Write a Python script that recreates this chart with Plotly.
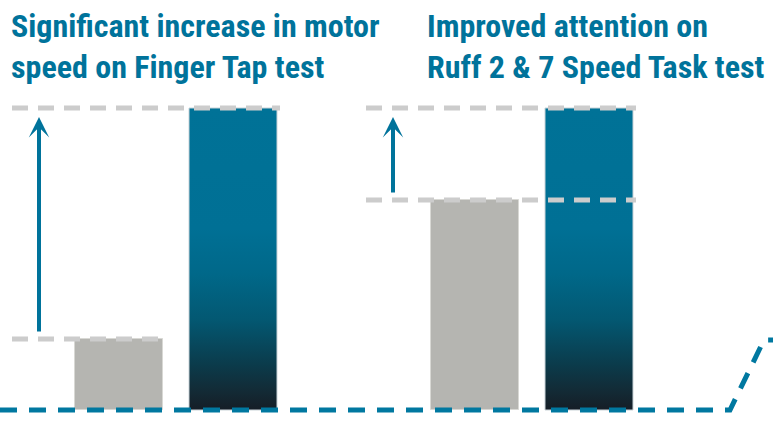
import plotly.graph_objects as go

# ---- data (arbitrary score units, "after" normalised to 100) ----
tests = ["Finger Tap test", "Ruff 2 & 7 Speed Task test"]
before = [23.5, 69.5]
after = [100, 100]
titles_line1 = ["Significant increase in motor", "Improved attention on"]
titles_line2 = ["speed on Finger Tap test", "Ruff 2 & 7 Speed Task test"]

# ---- layout constants ----
W, H = 780, 424
BLUE = "#00739b"
GRAY_BAR = "#b5b5b1"
GRAY_DASH = "#cccccc"
bar_w = 88
gray_x = [119, 475]
blue_x = [233, 589]
dash_left = [12, 366]
dash_right_top = [280, 636]
dash_right_low = [165, 636]
arrow_x = [39, 393]
title_x = [9, 425]
px_per_unit = 3.02
y0_px = 410
y_range = [-(H - y0_px) / px_per_unit, y0_px / px_per_unit]

fig = go.Figure()

# gray "before" bars
fig.add_trace(go.Bar(x=gray_x, y=before, width=bar_w, marker=dict(color=GRAY_BAR, line=dict(width=1, color="#d8d8d4")),
                     hoverinfo="skip", showlegend=False))

# blue "after" bars with vertical gradient
scale = [[0, "#151d26"], [0.06, "#132a35"], [0.15, "#0b3b4b"], [0.3, "#035872"],
         [0.45, "#006889"], [0.6, "#007095"], [1, "#007297"]]
for xc, v in zip(blue_x, after):
    xs = [xc - bar_w / 2, xc + bar_w / 2, xc + bar_w / 2, xc - bar_w / 2, xc - bar_w / 2]
    ys = [0, 0, v, v, 0]
    fig.add_trace(go.Scatter(x=xs, y=ys, fill="toself", mode="lines",
                             line=dict(color="#c9d3d8", width=1),
                             fillgradient=dict(type="vertical", colorscale=scale, start=0, stop=v),
                             hoverinfo="skip", showlegend=False))

shapes = []
for i in range(2):
    shapes.append(dict(type="line", xref="x", yref="y", x0=dash_left[i], x1=dash_right_top[i], y0=after[i], y1=after[i],
                       line=dict(color=GRAY_DASH, width=5, dash="16px,10px"), layer="above"))
    shapes.append(dict(type="line", xref="x", yref="y", x0=dash_left[i], x1=dash_right_low[i], y0=before[i], y1=before[i],
                       line=dict(color=GRAY_DASH, width=5, dash="16px,10px"), layer="above"))
fig.update_layout(shapes=shapes)

# baseline with decorative rising tail
base_x = [0, 730, 764, 773]
base_y = [0, 0, 23.2, 23.2]
fig.add_trace(go.Scatter(x=base_x, y=base_y, mode="lines",
                         line=dict(color="#0078a0", width=5, dash="17px,12px"),
                         hoverinfo="skip", showlegend=False))

annotations = []
for i in range(2):
    annotations.append(dict(x=arrow_x[i], y=after[i] - 3, ax=arrow_x[i], ay=before[i] + 2,
                            xref="x", yref="y", axref="x", ayref="y", text="", showarrow=True,
                            arrowhead=3, arrowwidth=4, arrowsize=0.85, arrowcolor=BLUE))
    for line_txt, top in ((titles_line1[i], 5), (titles_line2[i], 46)):
        annotations.append(dict(x=title_x[i] / W, y=1 - top / H, xref="paper", yref="paper",
                                xanchor="left", yanchor="top", text=line_txt, showarrow=False,
                                font=dict(family="Liberation Sans Narrow, Roboto Condensed, DejaVu Sans Condensed",
                                          size=32, color=BLUE, weight="bold")))
fig.update_layout(annotations=annotations)

fig.update_layout(width=W, height=H, margin=dict(l=0, r=0, t=0, b=0),
                  paper_bgcolor="white", plot_bgcolor="white",
                  xaxis=dict(range=[0, W], visible=False, fixedrange=True),
                  yaxis=dict(range=y_range, visible=False, fixedrange=True),
                  bargap=0)

fig.write_html("out.html")
